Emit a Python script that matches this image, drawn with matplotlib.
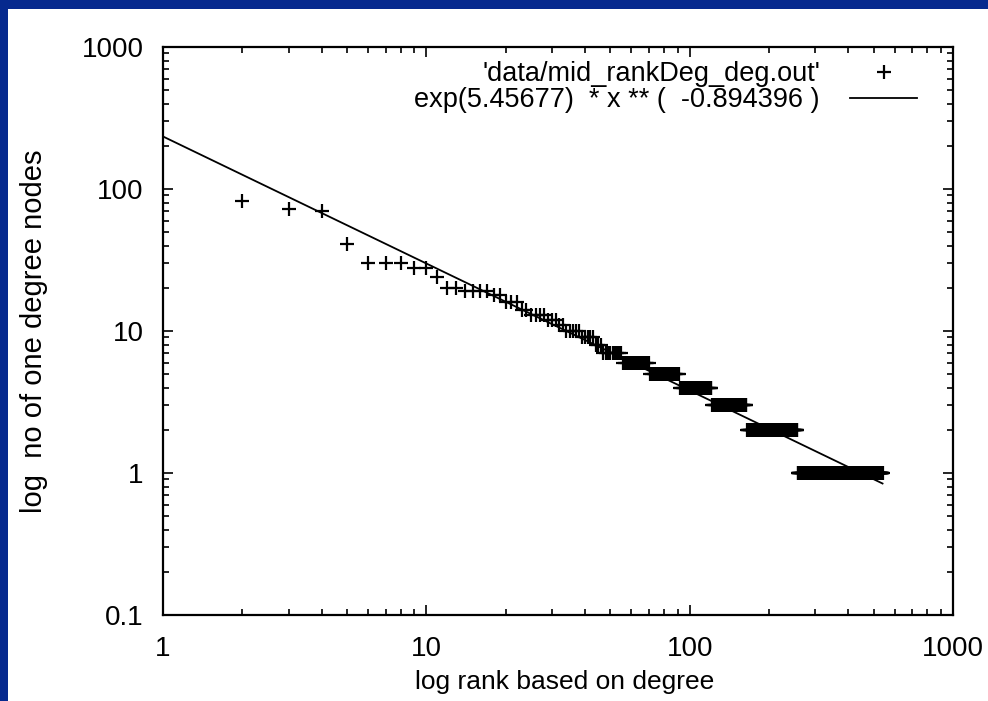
import numpy as np
import matplotlib
matplotlib.use('Agg')
import matplotlib.pyplot as plt
from matplotlib.patches import Rectangle
from matplotlib.ticker import LogLocator, NullFormatter, FixedFormatter, FixedLocator

# degree sequence: each degree and how many nodes have it
# (ranks start at 2, the top node sits at rank 0 and is not shown on log x)
degrees = [82, 72, 70, 41, 30, 28, 24, 20, 19, 18, 16, 14, 13, 12, 11,
           10, 9, 8, 7, 6, 5, 4, 3, 2, 1]
node_counts = [1, 1, 1, 1, 3, 2, 1, 2, 4, 2, 3, 2, 4, 3, 2,
               5, 5, 3, 9, 15, 21, 30, 43, 92, 284]
first_rank = 2

# fitted power law from the legend
fit_a = 5.45677
fit_b = -0.894396
fit_xmax = 540

tick_vals = [0.1, 1, 10, 100, 1000]
tick_labels = ['0.1', '1', '10', '100', '1000']

deg_seq = np.repeat(degrees, node_counts)
ranks = np.arange(first_rank, first_rank + len(deg_seq))

plt.rcParams['font.family'] = ['Liberation Sans', 'DejaVu Sans']

fig = plt.figure(figsize=(9.88, 7.01), dpi=100, facecolor='#06298e')
# white slide panel
fig.patches.append(Rectangle((8 / 988, 0), 1, (701 - 9) / 701, transform=fig.transFigure,
                             facecolor='white', edgecolor='none', zorder=-5))

ax = fig.add_axes([163 / 988, 86 / 701, 790 / 988, 568 / 701])
ax.set_zorder(2)
ax.set_facecolor('white')

ax.plot(ranks, deg_seq, linestyle='none', marker='+', markersize=9.5, mew=1.6,
        color='black', label="'data/mid_rankDeg_deg.out'")
xf = np.logspace(0, np.log10(fit_xmax), 200)
ax.plot(xf, np.exp(fit_a) * xf ** fit_b, color='black', lw=1.3,
        label='exp(5.45677)  * x ** (  -0.894396 )')

ax.set_xscale('log')
ax.set_yscale('log')
ax.set_xlim(1, 1000)
ax.set_ylim(0.1, 1000)

ax.xaxis.set_major_locator(FixedLocator(tick_vals[1:]))
ax.xaxis.set_major_formatter(FixedFormatter(tick_labels[1:]))
ax.yaxis.set_major_locator(FixedLocator(tick_vals))
ax.yaxis.set_major_formatter(FixedFormatter(tick_labels))
for a in (ax.xaxis, ax.yaxis):
    a.set_minor_locator(LogLocator(base=10, subs=np.arange(2, 10)))
    a.set_minor_formatter(NullFormatter())

ax.tick_params(which='both', direction='in', top=True, right=True, width=1.2, colors='black')
ax.tick_params(which='major', length=7, labelsize=20)
ax.tick_params(axis='x', which='major', pad=15)
ax.tick_params(axis='y', which='major', pad=14)
ax.tick_params(which='minor', length=4)
for s in ax.spines.values():
    s.set_linewidth(1.6)

ax.set_xlabel('log rank based on degree', fontsize=19)
ax.xaxis.set_label_coords(0.509, -0.097)
ax.set_ylabel('log  no of one degree nodes', fontsize=21)
ax.yaxis.set_label_coords(-0.145, 0.5)

ax.legend(loc='upper right', bbox_to_anchor=(0.955, 0.975), frameon=False,
          markerfirst=False, fontsize=19.5, handlelength=2.5, handletextpad=1.1,
          labelspacing=0.0, borderaxespad=0.0, borderpad=0.0)

fig.savefig('out.png', dpi=100, facecolor=fig.get_facecolor())
